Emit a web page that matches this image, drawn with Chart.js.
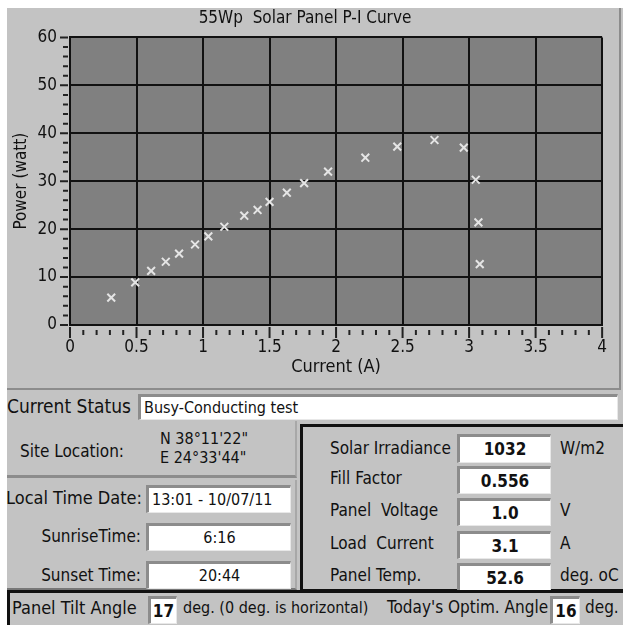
<!DOCTYPE html>
<html>
<head>
<meta charset="utf-8">
<script src="https://cdn.jsdelivr.net/npm/chart.js@4.4.1/dist/chart.umd.min.js"></script>
<style>
  body { margin: 0; width: 623px; height: 625px; overflow: hidden; background: #fff; position: relative;
         font-family: "DejaVu Sans Condensed", Tahoma, sans-serif; color: #111; }
  .abs { position: absolute; white-space: nowrap; }
  .lbl { position: absolute; white-space: pre; font-size: 17px; }
  .box { position: absolute; box-sizing: border-box; background: #fff; white-space: nowrap;
         border-top: 3px solid #8c8c8c; border-left: 3px solid #8c8c8c;
         border-right: 1px solid #e8e8e8; border-bottom: 1px solid #e8e8e8; font-size: 16px; }
  .val { text-align: center; font-weight: bold; font-size: 17px; }
</style>
</head>
<body>
<div class="abs" style="left:7px;top:8px;width:616px;height:617px;background:#c3c3c3"></div>

<!-- chart panel -->
<div class="abs" style="left:7px;top:8px;width:612px;height:380px;border-right:2px solid #8c8c8c;border-bottom:2px solid #8c8c8c">
  <canvas id="myChart" width="612" height="380"></canvas>
</div>

<!-- status row -->
<div class="lbl" style="left:7px;top:395px;font-size:19px">Current Status</div>
<div class="box" style="left:138px;top:394px;width:480px;height:26px;line-height:22px;padding-left:3px">Busy-Conducting test</div>

<!-- site location panel -->
<div class="abs" style="left:7px;top:421px;width:288px;height:54px;border-bottom:3px solid #8c8c8c;border-right:2px solid #a8a8a8"></div>
<div class="lbl" style="left:20px;top:441px">Site Location:</div>
<div class="lbl" style="left:160px;top:429px;font-size:16px;line-height:19px">N 38°11'22"<br>E 24°33'44"</div>

<!-- time panel -->
<div class="abs" style="left:7px;top:480px;width:288px;height:108px;border-bottom:2px solid #777;border-right:2px solid #a8a8a8"></div>
<div class="lbl" style="left:5px;top:487px;width:137px;text-align:right;font-size:18px">Local Time Date:</div>
<div class="box" style="left:146px;top:485px;width:145px;height:28px;line-height:24px;padding-left:3px">13:01 - 10/07/11</div>
<div class="lbl" style="left:5px;top:526px;width:136px;text-align:right">SunriseTime:</div>
<div class="box" style="left:146px;top:523px;width:145px;height:28px;line-height:24px;text-align:center">6:16</div>
<div class="lbl" style="left:5px;top:565px;width:136px;text-align:right">Sunset Time:</div>
<div class="box" style="left:146px;top:561px;width:145px;height:28px;line-height:24px;text-align:center">20:44</div>

<!-- measurement panel -->
<div class="abs" style="left:300px;top:424px;width:330px;height:168px;box-sizing:border-box;border:3px solid #111"></div>
<div class="lbl" style="left:330px;top:438px">Solar Irradiance</div>
<div class="box val" style="left:457px;top:434px;width:94px;height:29px;line-height:25px">1032</div>
<div class="lbl" style="left:560px;top:438px">W/m2</div>
<div class="lbl" style="left:330px;top:468px">Fill Factor</div>
<div class="box val" style="left:457px;top:466px;width:94px;height:28px;line-height:24px">0.556</div>
<div class="lbl" style="left:330px;top:500px">Panel  Voltage</div>
<div class="box val" style="left:457px;top:498px;width:94px;height:28px;line-height:24px">1.0</div>
<div class="lbl" style="left:560px;top:500px">V</div>
<div class="lbl" style="left:330px;top:533px">Load  Current</div>
<div class="box val" style="left:457px;top:531px;width:94px;height:28px;line-height:24px">3.1</div>
<div class="lbl" style="left:560px;top:533px">A</div>
<div class="lbl" style="left:330px;top:565px">Panel Temp.</div>
<div class="box val" style="left:457px;top:563px;width:94px;height:28px;line-height:24px">52.6</div>
<div class="lbl" style="left:560px;top:565px">deg. oC</div>

<!-- bottom bar -->
<div class="abs" style="left:7px;top:590px;width:620px;height:40px;box-sizing:border-box;border-top:3px solid #111;border-left:3px solid #111;background:#c3c3c3"></div>
<div class="lbl" style="left:12px;top:597px;font-size:18px">Panel Tilt Angle</div>
<div class="box val" style="left:148px;top:596px;width:29px;height:28px;line-height:24px">17</div>
<div class="lbl" style="left:183px;top:598px;font-size:16px">deg. (0 deg. is horizontal)</div>
<div class="lbl" style="left:387px;top:597px">Today's Optim. Angle</div>
<div class="box val" style="left:550px;top:596px;width:30px;height:28px;line-height:24px">16</div>
<div class="lbl" style="left:585px;top:597px">deg.</div>

<script>
// data
const current = [0.31, 0.49, 0.61, 0.72, 0.82, 0.94, 1.04, 1.16, 1.31, 1.41, 1.50,
                 1.63, 1.76, 1.94, 2.22, 2.46, 2.74, 2.96, 3.05, 3.07, 3.08];
const power = [5.7, 8.9, 11.3, 13.2, 14.9, 16.8, 18.5, 20.5, 22.8, 24.0, 25.7,
               27.6, 29.6, 32.0, 34.9, 37.2, 38.6, 37.0, 30.3, 21.4, 12.7];
const xTicks = [0, 0.5, 1, 1.5, 2, 2.5, 3, 3.5, 4];
const yTicks = [0, 10, 20, 30, 40, 50, 60];

const FONT = '"DejaVu Sans Condensed", Tahoma, sans-serif';

// gray plot background
const plotBg = {
  id: 'plotBg',
  beforeDraw(chart) {
    const { ctx, chartArea: { left, top, width, height } } = chart;
    ctx.save();
    ctx.fillStyle = '#808080';
    ctx.fillRect(left, top, width, height);
    ctx.restore();
  }
};

// small dashes along both axes
const minorTicks = {
  id: 'minorTicks',
  afterDraw(chart) {
    const { ctx, chartArea: { left, bottom }, scales: { x, y } } = chart;
    ctx.save();
    ctx.strokeStyle = '#222';
    ctx.lineWidth = 2;
    ctx.beginPath();
    for (let i = 0; i <= 30; i++) {
      const py = y.getPixelForValue(i * 2);
      const major = i % 5 === 0;
      ctx.moveTo(left - (major ? 10 : 7), py);
      ctx.lineTo(left - 2, py);
    }
    for (let i = 0; i <= 40; i++) {
      const px = x.getPixelForValue(i / 10);
      const major = i % 5 === 0;
      ctx.moveTo(px, bottom + (major ? 2 : 5));
      ctx.lineTo(px, bottom + (major ? 13 : 10));
    }
    ctx.stroke();
    ctx.restore();
  }
};

const config = {
  type: 'scatter',
  data: {
    datasets: [{
      data: current.map((c, i) => ({ x: c, y: power[i] })),
      pointStyle: 'crossRot',
      pointRadius: 5.5,
      pointBorderWidth: 2,
      borderColor: '#e4e4e4',
      backgroundColor: '#e4e4e4'
    }]
  },
  options: {
    responsive: false,
    animation: false,
    layout: { padding: { left: 0, right: 16, top: 0, bottom: 0 } },
    plugins: {
      legend: { display: false },
      tooltip: { enabled: false },
      title: {
        display: true,
        text: '55Wp  Solar Panel P-I Curve',
        color: '#111',
        font: { family: FONT, size: 17, weight: 'normal' },
        padding: { top: 0, bottom: 9 }
      }
    },
    scales: {
      x: {
        type: 'linear',
        min: 0, max: 4,
        afterBuildTicks: s => { s.ticks = xTicks.map(v => ({ value: v })); },
        afterFit: s => { s.height = 63; },
        grid: { color: '#111', lineWidth: 2, drawTicks: false },
        border: { color: '#111', width: 2 },
        ticks: { color: '#111', padding: 12, font: { family: FONT, size: 17 }, maxRotation: 0,
                 callback: v => String(v) },
        title: { display: true, text: 'Current (A)', color: '#111',
                 font: { family: FONT, size: 18 }, padding: { top: 0, bottom: 10 } }
      },
      y: {
        type: 'linear',
        min: 0, max: 60,
        afterBuildTicks: s => { s.ticks = yTicks.map(v => ({ value: v })); },
        afterFit: s => { s.width = 63; },
        grid: { color: '#111', lineWidth: 2, drawTicks: false },
        border: { color: '#111', width: 2 },
        ticks: { color: '#111', padding: 13, font: { family: FONT, size: 17 },
                 callback: v => String(v) },
        title: { display: true, text: 'Power (watt)', color: '#111',
                 font: { family: FONT, size: 17 }, padding: { top: 4, bottom: 0 } }
      }
    }
  },
  plugins: [plotBg, minorTicks]
};

const myChart = new Chart(document.getElementById('myChart'), config);
</script>
</body>
</html>
